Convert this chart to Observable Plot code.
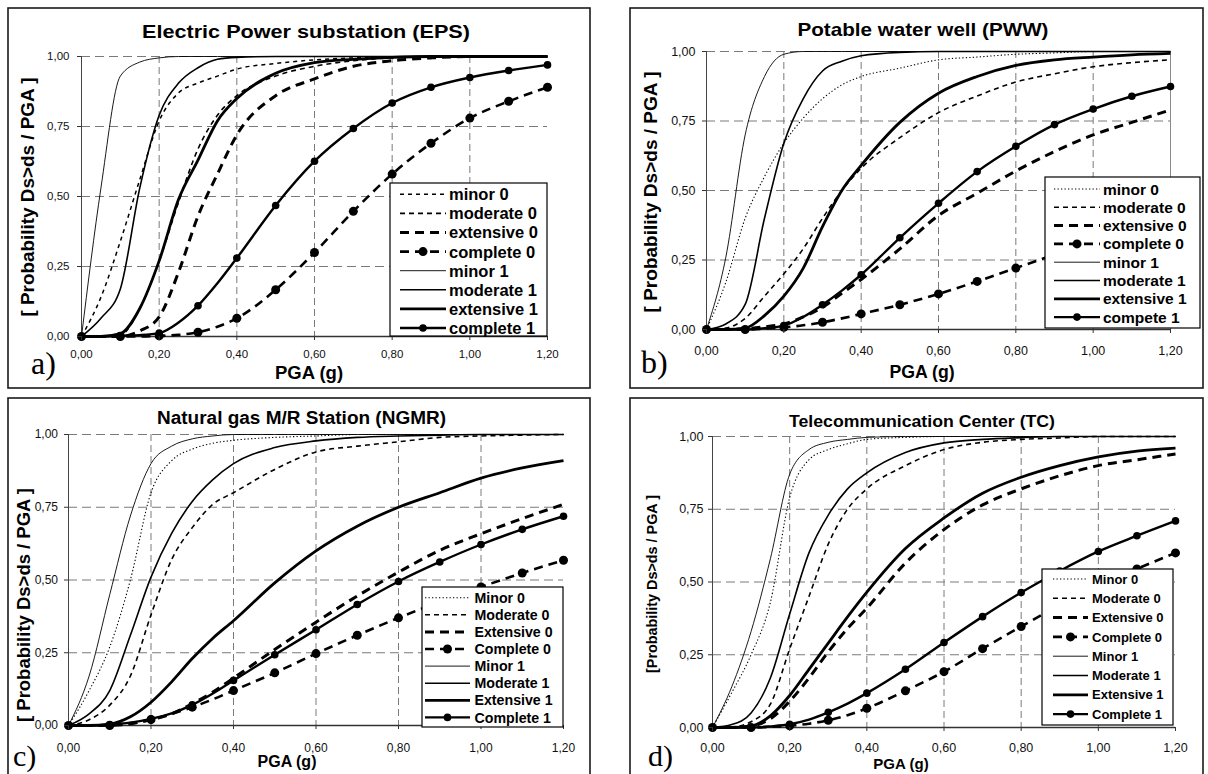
<!DOCTYPE html>
<html><head><meta charset="utf-8">
<script src="https://cdn.jsdelivr.net/npm/d3@7"></script>
<script src="https://cdn.jsdelivr.net/npm/@observablehq/plot@0.6"></script>
<style>
html,body{margin:0;padding:0;background:#fff;}
#wrap{position:relative;width:1208px;height:774px;overflow:hidden;background:#fff;}
#wrap svg{position:absolute;left:0;top:0;}
</style></head><body><div id="wrap"></div>
<script>
// ---------- data ----------
const pga = [0,0.05,0.1,0.15,0.2,0.25,0.3,0.35,0.4,0.5,0.6,0.7,0.8,0.9,1.0,1.1,1.2];
const xTicks = [0,0.2,0.4,0.6,0.8,1.0,1.2];
const yTicks = [0,0.25,0.5,0.75,1];
const seriesKeys = ["minor0","moderate0","extensive0","complete0","minor1","moderate1","extensive1","complete1"];

const titles = ["Electric Power substation (EPS)","Potable water well (PWW)","Natural gas M/R Station (NGMR)","Telecommunication Center (TC)"];
const legendLower = ["minor 0","moderate 0","extensive 0","complete 0","minor 1","moderate 1","extensive 1","complete 1"];
const legendPWW   = ["minor 0","moderate 0","extensive 0","complete 0","minor 1","moderate 1","extensive 1","compete 1"];
const legendUpper = ["Minor 0","Moderate 0","Extensive 0","Complete 0","Minor 1","Moderate 1","Extensive 1","Complete 1"];
const xTitle = "PGA (g)";
const yTitleSpaced = "[ Probability Ds>ds / PGA ]";
const yTitleTight = "[Probability Ds>ds / PGA ]";
const letters = ["a)","b)","c)","d)"];

// EPS
const epsMinor0     = [0,0.14,0.34,0.56,0.77,0.87,0.905,0.93,0.955,0.975,0.988,0.995,0.998,1,1,1,1];
const epsModerate0  = [0,0,0.005,0.1,0.27,0.48,0.67,0.79,0.86,0.93,0.965,0.985,0.995,1,1,1,1];
const epsExtensive0 = [0,0,0,0.02,0.07,0.23,0.43,0.58,0.72,0.86,0.92,0.965,0.985,0.995,1,1,1];
const epsComplete0  = [0,0,0,0,0.002,0.006,0.015,0.035,0.065,0.167,0.30,0.447,0.58,0.69,0.78,0.84,0.89];
const epsMinor1     = [0,0.53,0.93,0.98,0.995,1,1,1,1,1,1,1,1,1,1,1,1];
const epsModerate1  = [0,0.065,0.17,0.53,0.79,0.905,0.96,0.99,0.997,1,1,1,1,1,1,1,1];
const epsExtensive1 = [0,0,0.01,0.1,0.27,0.49,0.63,0.77,0.85,0.94,0.978,0.99,0.997,1,1,1,1];
const epsComplete1  = [0,0,0.003,0.005,0.012,0.05,0.11,0.19,0.28,0.468,0.626,0.743,0.834,0.89,0.925,0.95,0.97];

// PWW
const pwwMinor0     = [0,0.17,0.40,0.55,0.67,0.76,0.83,0.88,0.91,0.94,0.97,0.98,0.99,0.995,1,1,1];
const pwwModerate0  = [0,0.005,0.04,0.12,0.20,0.29,0.40,0.50,0.58,0.69,0.78,0.84,0.89,0.92,0.945,0.96,0.97];
const pwwExtensive0 = [0,0,0.003,0.01,0.02,0.045,0.08,0.13,0.18,0.29,0.41,0.49,0.57,0.64,0.70,0.745,0.79];
const pwwComplete0  = [0,0,0,0.003,0.008,0.015,0.026,0.04,0.056,0.089,0.128,0.173,0.221,0.27,0.32,0.37,0.42];
const pwwMinor1     = [0,0.26,0.70,0.91,0.99,1,1,1,1,1,1,1,1,1,1,1,1];
const pwwModerate1  = [0,0.02,0.09,0.40,0.67,0.83,0.93,0.965,0.985,0.997,1,1,1,1,1,1,1];
const pwwExtensive1 = [0,0,0.005,0.05,0.12,0.22,0.37,0.5,0.59,0.745,0.85,0.91,0.95,0.97,0.98,0.988,0.993];
const pwwComplete1  = [0,0,0,0.005,0.014,0.045,0.089,0.14,0.197,0.33,0.454,0.568,0.659,0.737,0.793,0.839,0.874];

// NGMR
const ngmrMinor0     = [0,0.12,0.27,0.5,0.8,0.91,0.95,0.97,0.98,0.99,0.995,1,1,1,1,1,1];
const ngmrModerate0  = [0,0.02,0.07,0.17,0.38,0.57,0.68,0.76,0.8,0.88,0.94,0.96,0.975,0.99,0.995,0.998,1];
const ngmrExtensive0 = [0,0,0.002,0.008,0.02,0.04,0.075,0.115,0.163,0.261,0.355,0.445,0.527,0.602,0.659,0.711,0.76];
const ngmrComplete0  = [0,0,0,0.005,0.02,0.04,0.063,0.09,0.12,0.181,0.247,0.31,0.37,0.425,0.476,0.524,0.568];
const ngmrMinor1     = [0,0.17,0.45,0.72,0.9,0.96,0.985,0.995,1,1,1,1,1,1,1,1,1];
const ngmrModerate1  = [0,0.04,0.12,0.31,0.51,0.66,0.77,0.845,0.9,0.955,0.978,0.99,0.995,0.998,1,1,1];
const ngmrExtensive1 = [0,0,0.005,0.03,0.08,0.15,0.23,0.30,0.36,0.49,0.6,0.685,0.75,0.80,0.85,0.885,0.91];
const ngmrComplete1  = [0,0,0.003,0.01,0.023,0.042,0.071,0.11,0.155,0.243,0.329,0.416,0.495,0.562,0.622,0.674,0.719];

// TC
const tcMinor0     = [0,0.12,0.25,0.43,0.79,0.92,0.955,0.975,0.99,0.997,1,1,1,1,1,1,1];
const tcModerate0  = [0,0.002,0.02,0.08,0.27,0.45,0.63,0.75,0.82,0.9,0.955,0.98,0.99,0.995,1,1,1];
const tcExtensive0 = [0,0,0.005,0.03,0.09,0.17,0.26,0.34,0.41,0.565,0.68,0.765,0.82,0.865,0.9,0.92,0.94];
const tcComplete0  = [0,0,0,0.002,0.006,0.013,0.025,0.042,0.066,0.126,0.192,0.271,0.347,0.42,0.485,0.545,0.6];
const tcMinor1     = [0,0.14,0.33,0.58,0.87,0.955,0.98,0.99,0.997,1,1,1,1,1,1,1,1];
const tcModerate1  = [0,0.01,0.05,0.17,0.39,0.6,0.73,0.82,0.875,0.945,0.978,0.99,0.996,1,1,1,1];
const tcExtensive1 = [0,0,0.005,0.04,0.11,0.2,0.29,0.38,0.465,0.615,0.72,0.805,0.86,0.9,0.93,0.95,0.96];
const tcComplete1  = [0,0,0,0.004,0.011,0.027,0.052,0.082,0.118,0.2,0.292,0.381,0.464,0.538,0.605,0.659,0.71];

// ---------- layout / styles ----------
const FONT = "'Liberation Sans', Arial, Helvetica, sans-serif";
function fmt(d){ return d.toFixed(2).replace(".", ","); }
function isTenth(x){ return Math.abs(x*10 - Math.round(x*10)) < 1e-6; }

function styleFor(key, dottedMinor) {
  switch (key) {
    case "minor0": return dottedMinor ? {w:1.1, dash:"1.3,2.2"} : {w:1.5, dash:"4,4"};
    case "moderate0": return {w:1.6, dash:"5,4"};
    case "extensive0": return {w:3, dash:"9,6"};
    case "complete0": return {w:2.6, dash:"9,6", r:4.5};
    case "minor1": return {w:0.9};
    case "moderate1": return {w:1.6};
    case "extensive1": return {w:2.8};
    case "complete1": return {w:2.4, r:3.8};
  }
}

const panels = [
  {data:[epsMinor0,epsModerate0,epsExtensive0,epsComplete0,epsMinor1,epsModerate1,epsExtensive1,epsComplete1],
   title:titles[0], labels:legendLower, yTitle:yTitleSpaced, letter:letters[0], dottedMinor:false, rightRule:false,
   box:[8,8,590,388], x0:81, x1:547, y1:56, y0:336,
   t:{x:306,y:31.5,fs:19,len:328}, xt:{x:309,y:372,fs:18.5}, yt:{x:27,y:197,fs:18.5,len:239},
   lt:{x:31,y:374,fs:32},
   lg:{x0:390,y0:183,x1:547,y1:336,s0:400,s1:446,tx:449,row0:194.3,dy:19.1,fs:16.5},
   tickFs:11.5, xPad:9, yPad:8},
  {data:[pwwMinor0,pwwModerate0,pwwExtensive0,pwwComplete0,pwwMinor1,pwwModerate1,pwwExtensive1,pwwComplete1],
   title:titles[1], labels:legendPWW, yTitle:yTitleSpaced, letter:letters[1], dottedMinor:true, rightRule:true,
   box:[630,8,1203,388], x0:706, x1:1170, y1:51, y0:329,
   t:{x:923,y:29.5,fs:19,len:251}, xt:{x:922,y:372,fs:17.7}, yt:{x:650,y:192,fs:18.5,len:241},
   lt:{x:641,y:373,fs:32},
   lg:{x0:1045,y0:177,x1:1200,y1:328,s0:1054,s1:1100,tx:1103,row0:189,dy:18.3,fs:15.5},
   tickFs:12.5, xPad:12.5, yPad:7},
  {data:[ngmrMinor0,ngmrModerate0,ngmrExtensive0,ngmrComplete0,ngmrMinor1,ngmrModerate1,ngmrExtensive1,ngmrComplete1],
   title:titles[2], labels:legendUpper, yTitle:yTitleSpaced, letter:letters[2], dottedMinor:true, rightRule:false,
   box:[8,398,590,790], x0:68, x1:563, y1:434, y0:725,
   t:{x:301.5,y:418,fs:18,len:289}, xt:{x:287,y:761,fs:16}, yt:{x:24,y:605,fs:18,len:234},
   lt:{x:13,y:766,fs:30},
   lg:{x0:422,y0:587,x1:563,y1:727,s0:425,s1:470,tx:474.5,row0:597.7,dy:17.1,fs:14.2},
   tickFs:12, xPad:13.5, yPad:6.5},
  {data:[tcMinor0,tcModerate0,tcExtensive0,tcComplete0,tcMinor1,tcModerate1,tcExtensive1,tcComplete1],
   title:titles[3], labels:legendUpper, yTitle:yTitleTight, letter:letters[3], dottedMinor:true, rightRule:false,
   box:[630,398,1203,790], x0:712, x1:1175, y1:436, y0:727,
   t:{x:922,y:421,fs:17,len:266}, xt:{x:901,y:764,fs:15}, yt:{x:652,y:584,fs:14.3,len:178},
   lt:{x:648,y:766,fs:30},
   lg:{x0:1042,y0:569,x1:1173,y1:725,s0:1053,s1:1088,tx:1092,row0:579,dy:19.3,fs:13},
   tickFs:12.5, xPad:11.5, yPad:5}
];

const W = 1208, H = 774;
const wrap = document.getElementById("wrap");

panels.forEach(P => {
  const rows = [];
  seriesKeys.forEach((k, si) => P.data[si].forEach((v, i) => rows.push({key:k, x:pga[i], y:v})));

  const marks = [
    Plot.ruleX(xTicks.filter(t => t > 0 && t < 1.2), {stroke:"#7a7a7a", strokeWidth:1, strokeDasharray:"7,4"}),
    Plot.ruleY(yTicks.filter(t => t > 0), {stroke:"#7a7a7a", strokeWidth:1, strokeDasharray:"9,5"})
  ];
  if (P.rightRule) marks.push(Plot.ruleX([1.2], {stroke:"#8a8a8a", strokeWidth:1}));
  marks.push(Plot.ruleX([0], {stroke:"#444", strokeWidth:1}));
  marks.push(Plot.ruleY([0], {stroke:"#333", strokeWidth:1.5}));

  seriesKeys.forEach(k => {
    const s = styleFor(k, P.dottedMinor);
    const d = rows.filter(r => r.key === k);
    marks.push(Plot.line(d, {x:"x", y:"y", curve:"monotone-x", stroke:"#000", strokeWidth:s.w,
      strokeDasharray: s.dash, strokeLinecap: "butt"}));
    if (s.r) marks.push(Plot.dot(d.filter(r => isTenth(r.x)), {x:"x", y:"y", r:s.r, fill:"#000", stroke:"none"}));
  });

  marks.push(Plot.axisX(xTicks, {tickFormat:fmt, tickSize:4, tickPadding:P.xPad, fontSize:P.tickFs, label:null, stroke:"#333", fill:"#111"}));
  marks.push(Plot.axisY(yTicks, {tickFormat:fmt, tickSize:4, tickPadding:P.yPad, fontSize:P.tickFs, label:null, stroke:"#333", fill:"#111"}));

  const svg = Plot.plot({
    width: W, height: H,
    marginLeft: P.x0, marginRight: W - P.x1, marginTop: P.y1, marginBottom: H - P.y0,
    x: {domain:[0,1.2]},
    y: {domain:[0,1]},
    style: {background:"transparent", fontFamily: FONT, color:"#000", overflow:"visible"},
    marks
  });
  wrap.appendChild(svg);

  const g = d3.select(svg).append("g").attr("font-family", FONT).attr("fill", "#000").attr("text-anchor", "start");
  // panel border
  g.append("rect").attr("x", P.box[0]).attr("y", P.box[1])
    .attr("width", P.box[2] - P.box[0]).attr("height", P.box[3] - P.box[1])
    .attr("fill", "none").attr("stroke", "#1a1a1a").attr("stroke-width", 1.6);
  // title
  g.append("text").attr("x", P.t.x).attr("y", P.t.y).attr("dy", "0.36em")
    .attr("text-anchor", "middle").attr("font-size", P.t.fs).attr("font-weight", "bold")
    .attr("textLength", P.t.len).attr("lengthAdjust", "spacingAndGlyphs").text(P.title);
  // x title
  g.append("text").attr("x", P.xt.x).attr("y", P.xt.y).attr("dy", "0.36em")
    .attr("text-anchor", "middle").attr("font-size", P.xt.fs).attr("font-weight", "bold").text(xTitle);
  // y title
  g.append("text").attr("transform", `translate(${P.yt.x},${P.yt.y}) rotate(-90)`).attr("dy", "0.36em")
    .attr("text-anchor", "middle").attr("font-size", P.yt.fs).attr("font-weight", "bold")
    .attr("textLength", P.yt.len).attr("lengthAdjust", "spacingAndGlyphs").text(P.yTitle);
  // panel letter
  g.append("text").attr("x", P.lt.x).attr("y", P.lt.y).attr("text-anchor", "start")
    .attr("font-family", "'Liberation Serif', 'Times New Roman', serif").attr("font-size", P.lt.fs).text(P.letter);
  // legend
  const L = P.lg;
  const lg = g.append("g");
  lg.append("rect").attr("x", L.x0).attr("y", L.y0).attr("width", L.x1 - L.x0).attr("height", L.y1 - L.y0)
    .attr("fill", "#fff").attr("stroke", "#000").attr("stroke-width", 1.2);
  seriesKeys.forEach((k, i) => {
    const s = styleFor(k, P.dottedMinor);
    const y = L.row0 + i * L.dy;
    lg.append("line").attr("x1", L.s0).attr("x2", L.s1).attr("y1", y).attr("y2", y)
      .attr("stroke", "#000").attr("stroke-width", s.w).attr("stroke-dasharray", s.dash || null);
    if (s.r) lg.append("circle").attr("cx", (L.s0 + L.s1) / 2).attr("cy", y).attr("r", s.r).attr("fill", "#000");
    lg.append("text").attr("x", L.tx).attr("y", y).attr("dy", "0.36em").attr("text-anchor", "start")
      .attr("font-size", L.fs).attr("font-weight", "bold").text(P.labels[i]);
  });
});
</script></body></html>
